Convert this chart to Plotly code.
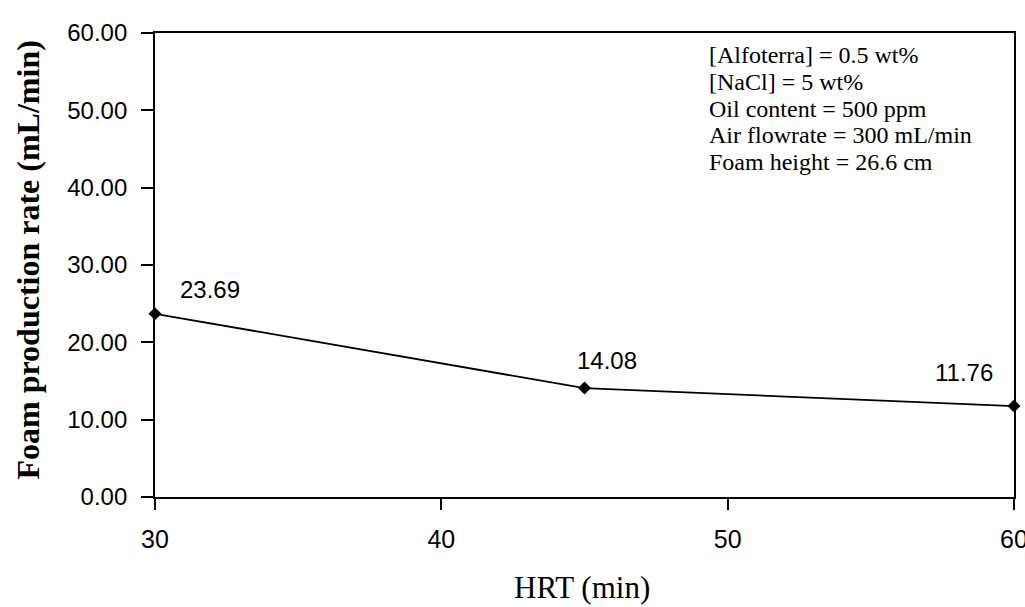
import plotly.graph_objects as go

hrt = [30, 45, 60]
foam_rate = [23.69, 14.08, 11.76]
point_labels = ["23.69", "14.08", "11.76"]
x_ticks = [30, 40, 50, 60]
y_ticks = [0, 10, 20, 30, 40, 50, 60]
conditions = [
    "[Alfoterra] = 0.5 wt%",
    "[NaCl] = 5 wt%",
    "Oil content = 500 ppm",
    "Air flowrate = 300 mL/min",
    "Foam height = 26.6 cm",
]

SANS = "Liberation Sans, Arial, sans-serif"
SERIF = "Liberation Serif, Times New Roman, serif"

fig = go.Figure()
fig.add_trace(go.Scatter(
    x=hrt, y=foam_rate, mode="lines+markers",
    line=dict(color="black", width=1.8),
    marker=dict(symbol="diamond", size=10, color="black"),
    cliponaxis=False, showlegend=False,
))

# data labels (pixel offsets from each point)
offsets = [(55, 24), (22, 28), (-50, 34)]
for x, y, t, (dx, dy) in zip(hrt, foam_rate, point_labels, offsets):
    fig.add_annotation(x=x, y=y, text=t, showarrow=False, xshift=dx, yshift=dy,
                       font=dict(family=SANS, size=24, color="black"))

# condition text block
for i, t in enumerate(conditions):
    fig.add_annotation(xref="paper", yref="paper", x=0.6426, y=1, xanchor="left",
                       yanchor="middle", yshift=-22 - i * 26.8, text=t, showarrow=False,
                       font=dict(family=SERIF, size=24, color="black"))

# axis titles
fig.add_annotation(xref="paper", yref="paper", x=0.497, y=0, yanchor="middle",
                   yshift=-90, text="HRT (min)", showarrow=False,
                   font=dict(family=SERIF, size=31, color="black"))
fig.add_annotation(xref="paper", yref="paper", x=-0.1478, y=0.5097, textangle=-90,
                   xanchor="center", yanchor="middle",
                   text="<b>Foam production rate (mL/min)</b>", showarrow=False,
                   font=dict(family=SERIF, size=32, color="black"))

fig.update_layout(
    width=1025, height=607,
    margin=dict(l=155, r=11, t=33, b=110, autoexpand=False),
    paper_bgcolor="white", plot_bgcolor="white",
    xaxis=dict(range=[30, 60], tickvals=x_ticks, ticks="outside", ticklen=11,
               tickcolor="black", tickwidth=1.8, showline=True, linecolor="black",
               linewidth=1.8, mirror=True, showgrid=False, zeroline=False,
               automargin=False, ticklabelstandoff=8, ticklabeloverflow="allow",
               tickfont=dict(family=SANS, size=25, color="black")),
    yaxis=dict(range=[0, 60], tickvals=y_ticks, tickformat=".2f", ticks="outside",
               ticklen=12, tickcolor="black", tickwidth=1.8, showline=True,
               linecolor="black", linewidth=1.8, mirror=True, showgrid=False,
               zeroline=False, automargin=False, ticklabelstandoff=9,
               tickfont=dict(family=SANS, size=24, color="black")),
)

fig.write_html("out.html", config={"displayModeBar": False},
               post_script="document.body.style.margin='0';")
